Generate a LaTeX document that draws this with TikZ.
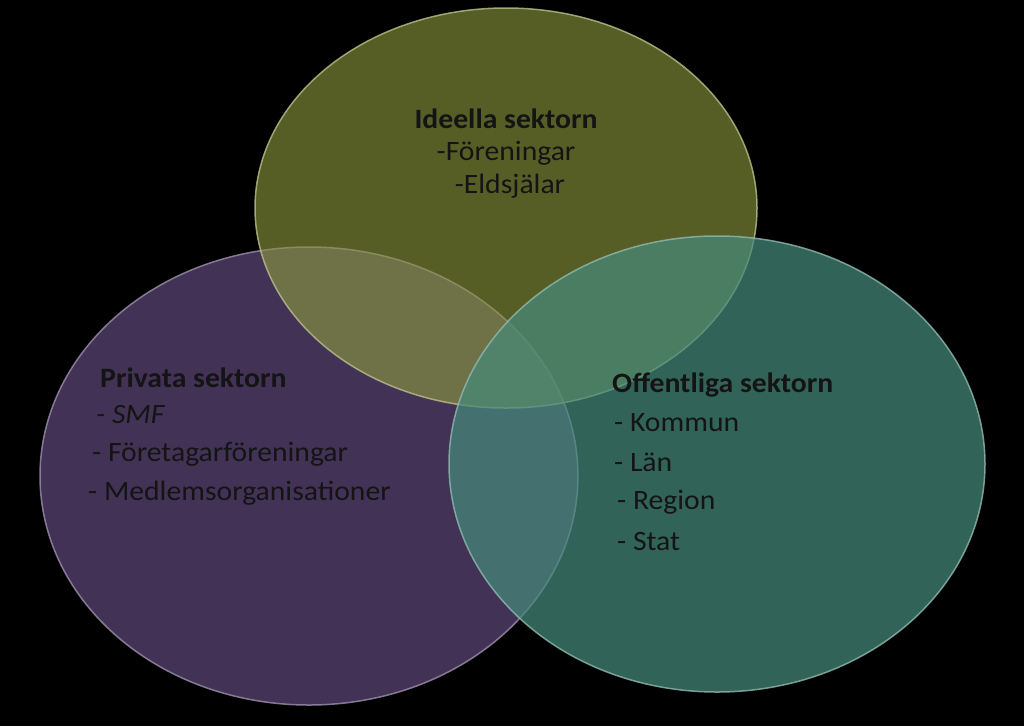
\documentclass[tikz,border=0pt]{standalone}
\usepackage{fontspec}
\setmainfont{Carlito}
\begin{document}
\begin{tikzpicture}[x=1pt,y=-1pt]
\definecolor{cTop}{RGB}{140,152,62}
\definecolor{cLeft}{RGB}{92,70,118}
\definecolor{cRight}{RGB}{70,138,122}
\definecolor{txt}{RGB}{20,20,20}
\tikzset{venn/.style={fill opacity=0.72,draw opacity=0.8,line width=1.5pt},
 lbl/.style={text=txt,font=\fontsize{28}{30}\selectfont,anchor=west,inner sep=0pt,xscale=1.06}}
\fill[black] (0,0) rectangle (1024,726);
\useasboundingbox (0,0) rectangle (1024,726);
\fill[venn,cLeft,draw=cLeft!60!white] (309,476) ellipse [x radius=269,y radius=229];
\fill[venn,cTop,fill opacity=0.62,draw=cTop!60!white] (506,208) ellipse [x radius=251,y radius=200];
\fill[venn,cRight,draw=cRight!60!white] (717,464) ellipse [x radius=268,y radius=228];
\node[lbl,anchor=center,font=\bfseries\fontsize{28}{30}\selectfont] (i0) at (506,119) {Ideella sektorn};
\node[lbl,anchor=center] (i1) at (506,153) {-Föreningar};
\node[lbl,anchor=center] (i2) at (510,186) {-Eldsjälar};
\node[lbl,font=\bfseries\fontsize{28}{30}\selectfont] (p0) at (100,378) {Privata sektorn};
\node[lbl,font=\itshape\fontsize{28}{30}\selectfont] (p1) at (96,415) {- SMF};
\node[lbl] (p2) at (92,454) {- Företagarföreningar};
\node[lbl] (p3) at (88,493) {- Medlemsorganisationer};
\node[lbl,font=\bfseries\fontsize{28}{30}\selectfont] (o0) at (612,385) {Offentliga sektorn};
\node[lbl] (o1) at (614,423) {- Kommun};
\node[lbl] (o2) at (614,462) {- Län};
\node[lbl] (o3) at (617,502) {- Region};
\node[lbl] (o4) at (617,542) {- Stat};
\end{tikzpicture}
\end{document}
